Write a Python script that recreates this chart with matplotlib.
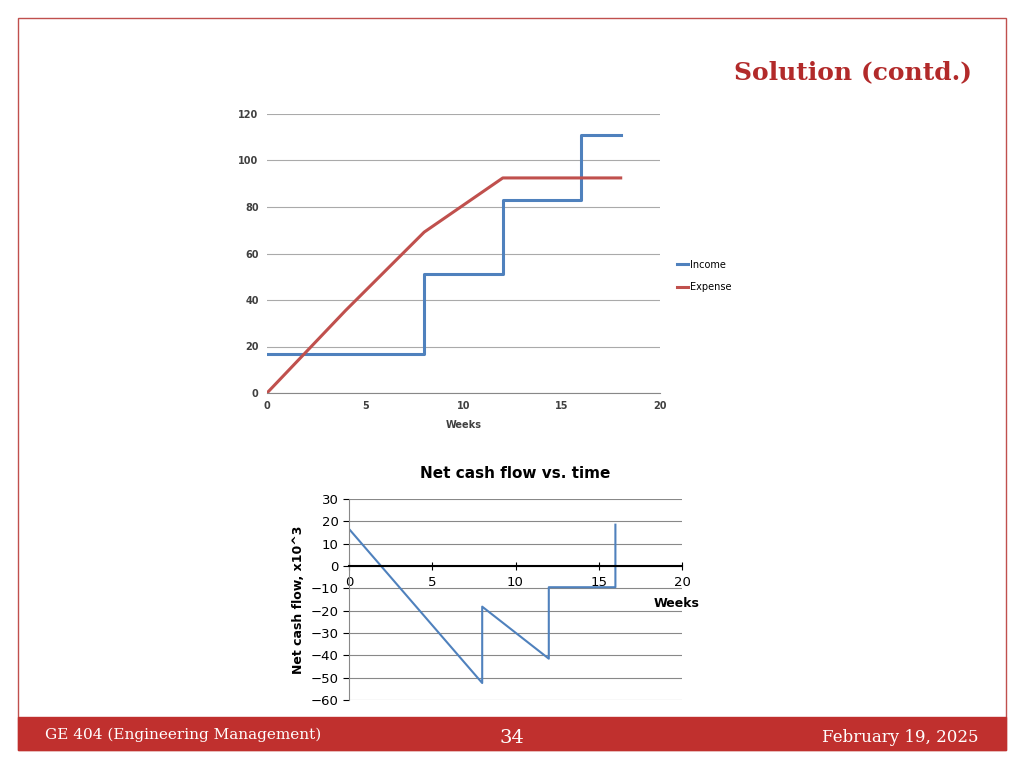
import matplotlib
matplotlib.use("Agg")
import matplotlib.pyplot as plt
from matplotlib.patches import Rectangle

weeks_income = [0, 8, 8, 12, 12, 16, 16, 18]
income = [16.6, 16.6, 51, 51, 83, 83, 111, 111]
weeks_expense = [0, 4, 8, 12, 18]
expense = [0, 35.5, 69.2, 92.5, 92.5]
weeks_net = [0, 8, 8, 12, 12, 16, 16]
net = [16.6, -52.4, -18.2, -41.5, -9.5, -9.5, 18.5]

W, H = 1024, 768
fig = plt.figure(figsize=(10.24, 7.68), dpi=100)

def ax_px(l, t, r, b):
    return fig.add_axes([l / W, 1 - b / H, (r - l) / W, (b - t) / H])

# slide frame
bg = fig.add_axes([0, 0, 1, 1]); bg.set_xlim(0, W); bg.set_ylim(H, 0); bg.axis("off")
bg.add_patch(Rectangle((18, 18), 988, 732, fill=False, ec="#c0504d", lw=1))
bg.add_patch(Rectangle((18, 717), 988, 33, color="#c0302e"))
bg.text(972, 72, "Solution (contd.)", color="#b22a2a", fontsize=18, fontweight="bold",
        family="DejaVu Serif", ha="right", va="center")
bg.text(45, 735, "GE 404 (Engineering Management)", color="white", fontsize=11,
        family="DejaVu Serif", va="center")
bg.text(512, 738, "34", color="white", fontsize=14, family="DejaVu Serif", ha="center", va="center")
bg.text(978, 737, "February 19, 2025", color="white", fontsize=12, family="DejaVu Serif",
        ha="right", va="center")

# top chart
ax = ax_px(267, 114, 660, 393)
ax.plot(weeks_income, income, color="#4f81bd", lw=2.2, label="Income")
ax.plot(weeks_expense, expense, color="#c0504d", lw=2.2, label="Expense")
ax.set_xlim(0, 20); ax.set_ylim(0, 120)
ax.set_xticks(range(0, 21, 5)); ax.set_yticks(range(0, 121, 20))
ax.grid(axis="y", color="#aaaaaa", lw=0.8)
for s in ["top", "right", "left"]:
    ax.spines[s].set_visible(False)
ax.spines["bottom"].set_color("#888888")
ax.tick_params(length=0, labelsize=7, pad=6)
for t in ax.get_xticklabels() + ax.get_yticklabels():
    t.set_fontweight("bold"); t.set_color("#404040")
ax.set_xlabel("Weeks", fontsize=7, fontweight="bold", color="#404040", labelpad=6)
ax.legend(loc="center left", bbox_to_anchor=(1.02, 0.42), frameon=False, fontsize=7,
          handlelength=1.2, labelspacing=1.3, handletextpad=0.2)

# bottom chart
ax2 = ax_px(349, 499, 682, 700)
ax2.plot(weeks_net, net, color="#4f81bd", lw=1.5)
ax2.set_xlim(0, 20); ax2.set_ylim(-60, 30)
ax2.set_xticks(range(0, 21, 5)); ax2.set_yticks(range(-60, 31, 10))
ax2.grid(axis="y", color="#888888", lw=0.8)
ax2.spines["bottom"].set_position(("data", 0))
ax2.spines["bottom"].set_linewidth(1.5)
for s in ["top", "right"]:
    ax2.spines[s].set_visible(False)
ax2.spines["left"].set_color("#888888")
ax2.tick_params(axis="x", direction="inout", length=6, labelsize=9.5, pad=4)
ax2.tick_params(axis="y", direction="out", length=4, labelsize=9.5)
ax2.set_title("Net cash flow vs. time", fontsize=11, fontweight="bold", pad=15)
ax2.set_ylabel("Net cash flow, x10^3", fontsize=9, fontweight="bold")
ax2.text(19.7, -17, "Weeks", fontsize=9, fontweight="bold", ha="center", va="center")

fig.savefig("out.png", dpi=100)
